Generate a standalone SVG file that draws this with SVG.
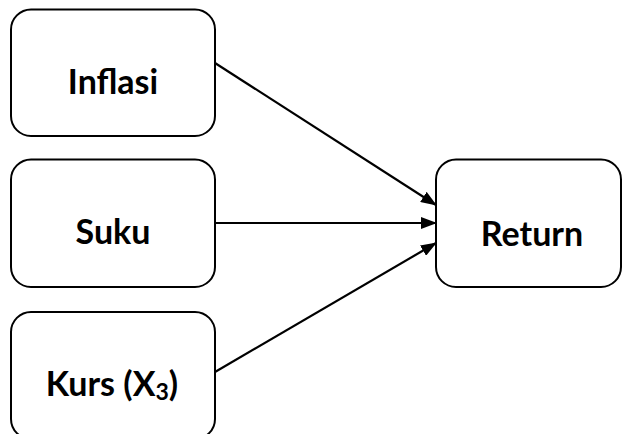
<svg xmlns="http://www.w3.org/2000/svg" width="623" height="434" viewBox="0 0 623 434">
  <style>
    .box { fill: #ffffff; stroke: #000000; stroke-width: 2; }
    .label { font-family: Lato, "Liberation Sans", sans-serif; font-weight: bold; font-size: 34px; fill: #000000; text-anchor: middle; }
    .edge { stroke: #000000; stroke-width: 2.2; fill: none; marker-end: url(#arrow); }
  </style>
  <defs>
    <marker id="arrow" markerWidth="16" markerHeight="12" refX="15" refY="6" orient="auto" markerUnits="userSpaceOnUse">
      <path d="M0,0 L16,6 L0,12 Z" fill="#000000"/>
    </marker>
  </defs>
  <rect width="623" height="434" fill="#ffffff"/>

  <g id="inflasi">
    <rect class="box" x="11" y="9.5" width="204" height="126.5" rx="20" ry="20"/>
    <text class="label" x="113" y="94">Inflasi</text>
  </g>

  <g id="suku">
    <rect class="box" x="11" y="159.5" width="204" height="127.5" rx="20" ry="20"/>
    <text class="label" x="113" y="244">Suku</text>
  </g>

  <g id="kurs">
    <rect class="box" x="11" y="312" width="204" height="127" rx="20" ry="20"/>
    <text class="label" x="112" y="396">Kurs (X<tspan font-size="23" dy="4">3</tspan><tspan dy="-4">)</tspan></text>
  </g>

  <g id="return">
    <rect class="box" x="436" y="159.5" width="185" height="127.5" rx="20" ry="20"/>
    <text class="label" x="532" y="246">Return</text>
  </g>

  <g id="connectors">
    <line class="edge" x1="215" y1="63" x2="436" y2="205"/>
    <line class="edge" x1="215" y1="223" x2="436" y2="223"/>
    <line class="edge" x1="215" y1="372" x2="436" y2="243"/>
  </g>
</svg>
